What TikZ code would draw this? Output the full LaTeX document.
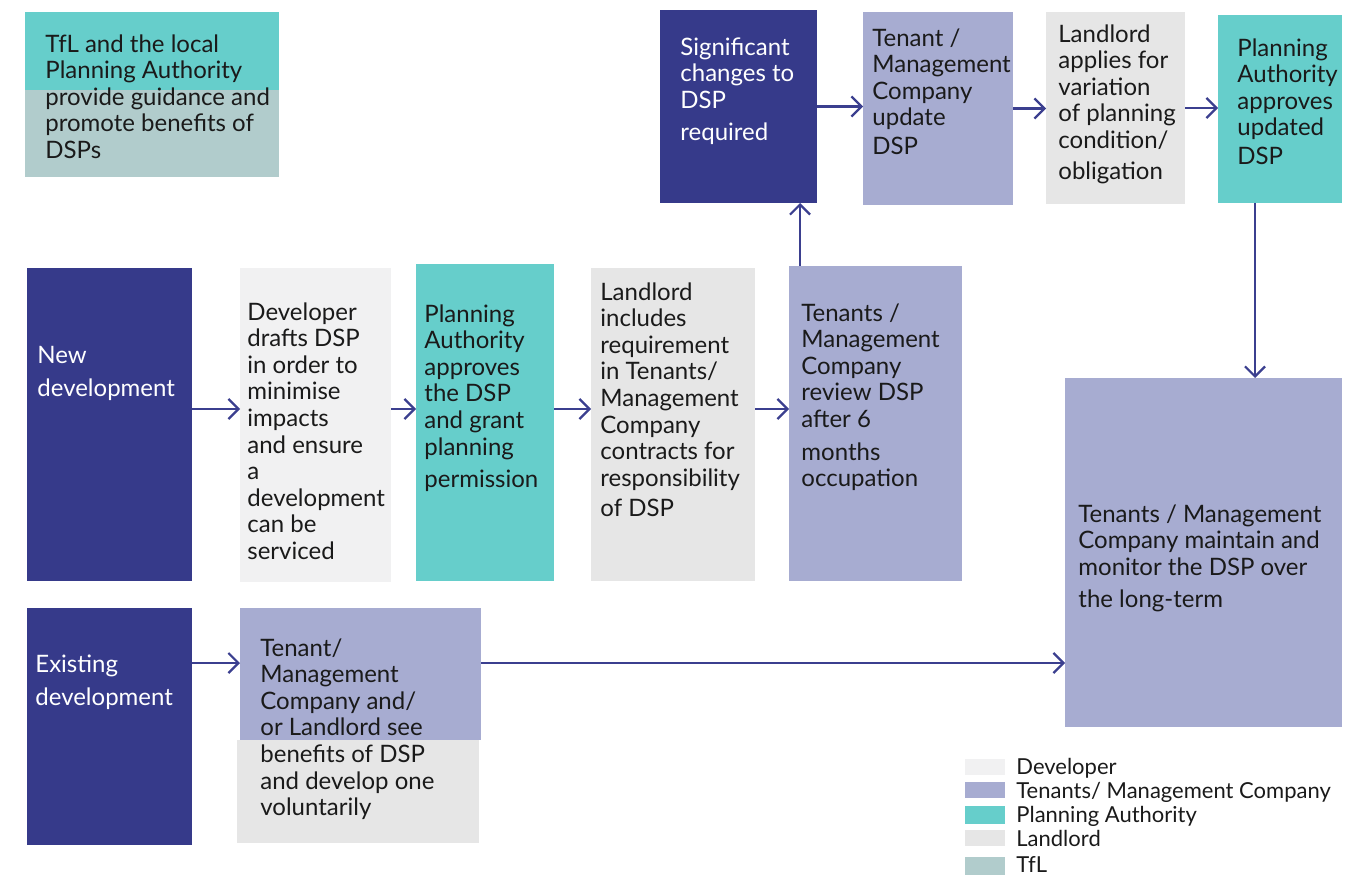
\documentclass[tikz,border=0pt]{standalone}
\usepackage{xcolor}
\usepackage{fontspec}
\setmainfont{Lato}
\usepackage{tikz}
\usetikzlibrary{shapes,arrows.meta,calc}

\definecolor{navy}{HTML}{363A8A}
\definecolor{tenants}{HTML}{A7ACD1}
\definecolor{planning}{HTML}{66CECB}
\definecolor{tfl}{HTML}{B1CCCC}
\definecolor{developer}{HTML}{F1F1F2}
\definecolor{landlord}{HTML}{E6E6E6}
\definecolor{flowline}{HTML}{3B3F8F}
\definecolor{ink}{HTML}{1A1A1A}

\tikzset{
  box/.style={rectangle, draw=none, inner sep=0pt, outer sep=0pt},
  txt/.style={anchor=north west, inner sep=0pt, align=left, text=ink,
    font=\fontsize{12}{13.3}\selectfont},
  whitetxt/.style={txt, text=white},
  keytxt/.style={anchor=base west, inner sep=0pt, text=ink,
    font=\fontsize{11}{13}\selectfont},
  flow/.style={draw=flowline, line width=1.1pt,
    -{Straight Barb[length=5pt,width=10pt,line width=1.1pt]}},
}

\begin{document}
\begin{tikzpicture}[x=0.5pt,y=-0.5pt]
\useasboundingbox (0,0) rectangle (1361,877);

% TfL guidance box
\node[box, fill=planning, minimum width=127pt, minimum height=39pt] (tfltop) at (152,51) {};
\node[box, fill=tfl, minimum width=127pt, minimum height=43.5pt] (tflbot) at (152,133.5) {};
\node[txt] (tfltxt) at (45,34) {TfL and the local\\Planning Authority\\provide guidance and\\promote benefits of\\DSPs};

% Top row
\node[box, fill=navy, minimum width=78.5pt, minimum height=96.5pt] (sig) at (738.5,106.5) {};
\node[whitetxt] (sigtxt) at (680,37) {Significant\\changes to\\DSP\\[3pt]required};
\node[box, fill=tenants, minimum width=75pt, minimum height=96.5pt] (upd) at (938,108.5) {};
\node[txt] (updtxt) at (872,28) {Tenant /\\Management\\Company\\update\\[1pt]DSP};
\node[box, fill=landlord, minimum width=69.5pt, minimum height=96pt] (appl) at (1115.5,108) {};
\node[txt] (appltxt) at (1058,24) {Landlord\\applies for\\variation\\of planning\\condition/\\[2pt]obligation};
\node[box, fill=planning, minimum width=62pt, minimum height=94pt] (paupd) at (1280,109) {};
\node[txt] (paupdtxt) at (1237,38) {Planning\\Authority\\approves\\updated\\[1pt]DSP};

% Middle row
\node[box, fill=navy, minimum width=82.5pt, minimum height=156.5pt] (newdev) at (109.5,424.5) {};
\node[whitetxt] (newdevtxt) at (37,346) {New\\[3pt]development};
\node[box, fill=developer, minimum width=75.5pt, minimum height=157pt] (draft) at (315.5,425) {};
\node[txt] (drafttxt) at (247,302) {Developer\\drafts DSP\\in order to\\minimise\\impacts\\and ensure\\a\\development\\can be\\serviced};
\node[box, fill=planning, minimum width=69pt, minimum height=158.5pt] (paok) at (485,422.5) {};
\node[txt] (paoktxt) at (424,304) {Planning\\Authority\\approves\\the DSP\\and grant\\planning\\[3pt]permission};
\node[box, fill=landlord, minimum width=82pt, minimum height=156.5pt] (incl) at (673,424.5) {};
\node[txt] (incltxt) at (600,282) {Landlord\\includes\\requirement\\in Tenants/\\Management\\Company\\contracts for\\responsibility\\[2pt]of DSP};
\node[box, fill=tenants, minimum width=86.5pt, minimum height=157.5pt] (review) at (875.5,423.5) {};
\node[txt] (reviewtxt) at (801,303) {Tenants /\\Management\\Company\\review DSP\\after 6\\[3pt]months\\occupation};

% Long-term box
\node[box, fill=tenants, minimum width=138.5pt, minimum height=174.5pt] (maint) at (1203.5,552.5) {};
\node[txt] (mainttxt) at (1078,504) {Tenants / Management\\Company maintain and\\monitor the DSP over\\[3pt]the long-term};

% Bottom row
\node[box, fill=navy, minimum width=82.5pt, minimum height=118.5pt] (exist) at (109.5,726.5) {};
\node[whitetxt] (existtxt) at (35,655) {Existing\\[3pt]development};
\node[box, fill=tenants, minimum width=120.5pt, minimum height=66pt] (vtop) at (360.5,674) {};
\node[box, fill=landlord, minimum width=121pt, minimum height=51.5pt] (vbot) at (358,791.5) {};
\node[txt] (voltxt) at (260,638) {Tenant/\\Management\\Company and/\\or Landlord see\\benefits of DSP\\and develop one\\voluntarily};

% Connectors
\coordinate (midrow) at (0,409);
\coordinate (lowrow) at (0,663);
\coordinate (upcol) at (800,0);
\coordinate (downcol) at (1255,0);
\draw[flow] (sig.east) -- (sig.east -| upd.west);
\draw[flow] (upd.east) -- (upd.east -| appl.west);
\draw[flow] (appl.east) -- (appl.east -| paupd.west);
\draw[flow] (newdev.east |- midrow) -- (draft.west |- midrow);
\draw[flow] (draft.east |- midrow) -- (paok.west |- midrow);
\draw[flow] (paok.east |- midrow) -- (incl.west |- midrow);
\draw[flow] (incl.east |- midrow) -- (review.west |- midrow);
\draw[flow] (review.north -| upcol) -- (sig.south -| upcol);
\draw[flow] (paupd.south -| downcol) -- (maint.north -| downcol);
\draw[flow] (exist.east |- lowrow) -- (vtop.west |- lowrow);
\draw[flow] (vtop.east |- lowrow) -- (maint.west |- lowrow);

% Legend
\node[box, fill=developer, minimum width=20pt, minimum height=8pt] (keydev) at (985,767) {};
\node[keytxt] (keydevtxt) at (1016,774) {Developer};
\node[box, fill=tenants, minimum width=20pt, minimum height=8pt] (keyten) at (985,790) {};
\node[keytxt] (keytentxt) at (1016,798) {Tenants/ Management Company};
\node[box, fill=planning, minimum width=20pt, minimum height=9pt] (keypa) at (985,815) {};
\node[keytxt] (keypatxt) at (1016,822) {Planning Authority};
\node[box, fill=landlord, minimum width=20pt, minimum height=8pt] (keyll) at (985,838) {};
\node[keytxt] (keylltxt) at (1016,846) {Landlord};
\node[box, fill=tfl, minimum width=20pt, minimum height=9pt] (keytfl) at (985,866) {};
\node[keytxt] (keytfltxt) at (1016,872) {TfL};

\end{tikzpicture}
\end{document}
